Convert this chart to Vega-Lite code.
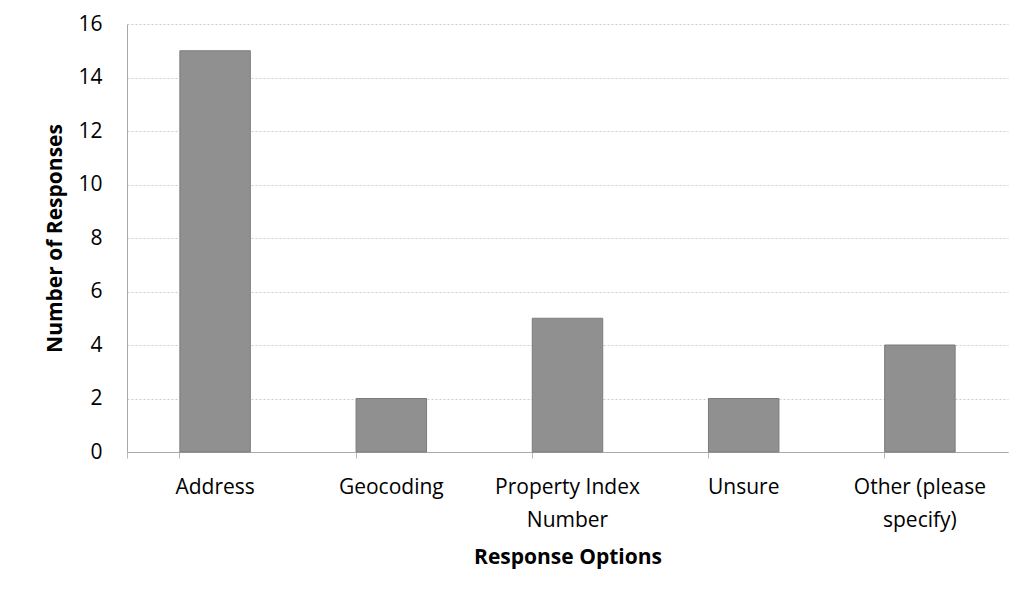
{
  "$schema": "https://vega.github.io/schema/vega-lite/v6.json",
  "autosize": "none",
  "width": 881,
  "height": 428,
  "padding": {"left": 127, "top": 24, "right": 23, "bottom": 150},
  "background": "white",
  "config": {
    "view": {"stroke": null},
    "font": "Open Sans"
  },
  "data": {
    "values": [
      {"option": "Address", "responses": 15},
      {"option": "Geocoding", "responses": 2},
      {"option": "Property Index Number", "responses": 5},
      {"option": "Unsure", "responses": 2},
      {"option": "Other (please specify)", "responses": 4}
    ]
  },
  "mark": {"type": "bar", "color": "#909090", "stroke": "#7c7c7c", "strokeWidth": 1},
  "encoding": {
    "x": {
      "field": "option",
      "type": "nominal",
      "sort": null,
      "scale": {"paddingInner": 0.6, "paddingOuter": 0.3},
      "axis": {
        "title": "Response Options",
        "titleFont": "Open Sans",
        "titleFontSize": 21,
        "titleFontWeight": "bold",
        "titleColor": "#000000",
        "titlePadding": 16,
        "labelAngle": 0,
        "labelFont": "Open Sans",
        "labelFontSize": 21,
        "labelColor": "#000000",
        "labelPadding": 18,
        "labelLineHeight": 33,
        "labelExpr": "datum.label == 'Property Index Number' ? ['Property Index', 'Number'] : datum.label == 'Other (please specify)' ? ['Other (please', 'specify)'] : datum.label",
        "bandPosition": 0,
        "tickExtra": true,
        "tickSize": 6,
        "tickColor": "#b8b8b8",
        "domainColor": "#a8a8a8",
        "grid": false
      }
    },
    "y": {
      "field": "responses",
      "type": "quantitative",
      "scale": {"domain": [0, 16], "nice": false},
      "axis": {
        "title": "Number of Responses",
        "titleFont": "Open Sans",
        "titleFontSize": 21,
        "titleFontWeight": "bold",
        "titleColor": "#000000",
        "titlePadding": 12,
        "values": [0, 2, 4, 6, 8, 10, 12, 14, 16],
        "labelFont": "Open Sans",
        "labelFontSize": 21,
        "labelColor": "#000000",
        "labelPadding": 25,
        "ticks": false,
        "domainColor": "#a8a8a8",
        "grid": true,
        "gridColor": "#cccccc",
        "gridDash": [2, 2],
        "gridWidth": 1
      }
    }
  }
}
